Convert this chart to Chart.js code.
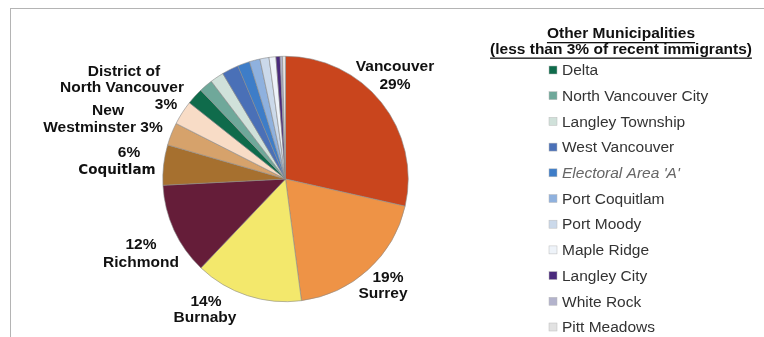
<!DOCTYPE html>
<html><head><meta charset="utf-8">
<script src="https://cdn.jsdelivr.net/npm/chart.js@4.4.1/dist/chart.umd.min.js"></script>
<style>
html,body{margin:0;padding:0;background:#fff;width:764px;height:337px;overflow:hidden}
#frame{position:absolute;left:10px;top:8px;width:760px;height:340px;border-top:1px solid #b4b4b4;border-left:1px solid #b4b4b4}
#wrap{position:absolute;left:0;top:0;width:764px;height:337px}
</style></head><body>
<div id="frame"></div>
<div id="wrap"><canvas id="c" width="764" height="337"></canvas></div>
<script>
const categories = ["Vancouver","Surrey","Burnaby","Richmond","Coquitlam","New Westminster","District of North Vancouver",
  "Delta","North Vancouver City","Langley Township","West Vancouver","Electoral Area 'A'","Port Coquitlam","Port Moody",
  "Maple Ridge","Langley City","White Rock","Pitt Meadows"];
const shares = [28.6,19.4,14.2,12.1,5.3,3.0,3.2,2.2,1.8,1.8,2.2,1.6,1.4,1.2,0.9,0.55,0.3,0.4];
const shareLabels = ["29%","19%","14%","12%","6%","3%","3%"];
const legendTitle = ["Other Municipalities","(less than 3% of recent immigrants)"];
const colors = ["#C9451D","#EE9346","#F3E86C","#651D39","#A6702F","#D6A26B","#F8DCC6",
  "#0F6B4B","#6FA89A","#D0E1DA","#4A70B7","#3E7DC8","#8FB1DE","#CBD9EA","#EEF3F9","#4A2A7C","#B3B3CC","#E2E2E2"];

const labelPlugin = {
  id:'labels',
  afterDraw(chart){
    const ctx = chart.ctx;
    ctx.save();
    ctx.fillStyle = '#111';
    ctx.textBaseline = 'middle';
    ctx.textAlign = 'center';
    const B = 'bold 15.5px "Liberation Sans", Arial, sans-serif';
    const t = (s,x,y,f)=>{ctx.font=f||B;ctx.fillText(s,x,y);};
    t(categories[0],395,67); t(shareLabels[0],395,85);
    t(shareLabels[1],388,278); t(categories[1],383,294);
    t(shareLabels[2],206,302); t(categories[2],205,318);
    t(shareLabels[3],141,245); t(categories[3],141,263);
    t(shareLabels[4],129,153); t('Coquitlam',117,170,'bold 13.5px "DejaVu Sans", sans-serif');
    t('New',108,111); t('Westminster '+shareLabels[5],103,128);
    t('District of',124,72); t('North Vancouver',122,88); t(shareLabels[6],166,105);
    // legend
    ctx.font = 'bold 15.5px "Liberation Sans", Arial, sans-serif';
    legendTitle.forEach((s,i)=>{
      const y = 34+i*15.5;
      ctx.fillText(s,621,y);
      const w = ctx.measureText(s).width;
      ctx.fillRect(621-w/2, y+8, w, 1.3);
    });
    ctx.textAlign='left';
    const start = 7;
    for(let i=start;i<categories.length;i++){
      const k=i-start; const y=70+k*25.7;
      ctx.fillStyle = colors[i];
      ctx.fillRect(549,y-4,8,8);
      ctx.strokeStyle='#bbb'; ctx.lineWidth=0.5; ctx.strokeRect(549,y-4,8,8);
      ctx.fillStyle = k===4 ? '#666' : '#333';
      ctx.font = (k===4?'italic ':'')+'15.5px "Liberation Sans", Arial, sans-serif';
      ctx.fillText(categories[i],562,y+1);
    }
    ctx.restore();
  }
};

new Chart(document.getElementById('c'),{
  type:'pie',
  data:{labels:categories,datasets:[{data:shares,backgroundColor:colors,borderColor:'#8a8a8a',borderWidth:0.6,hoverOffset:0}]},
  options:{
    responsive:false,animation:false,
    layout:{padding:{left:161,right:354,top:56,bottom:35}},
    plugins:{legend:{display:false},tooltip:{enabled:false}}
  },
  plugins:[labelPlugin]
});
</script>
</body></html>
